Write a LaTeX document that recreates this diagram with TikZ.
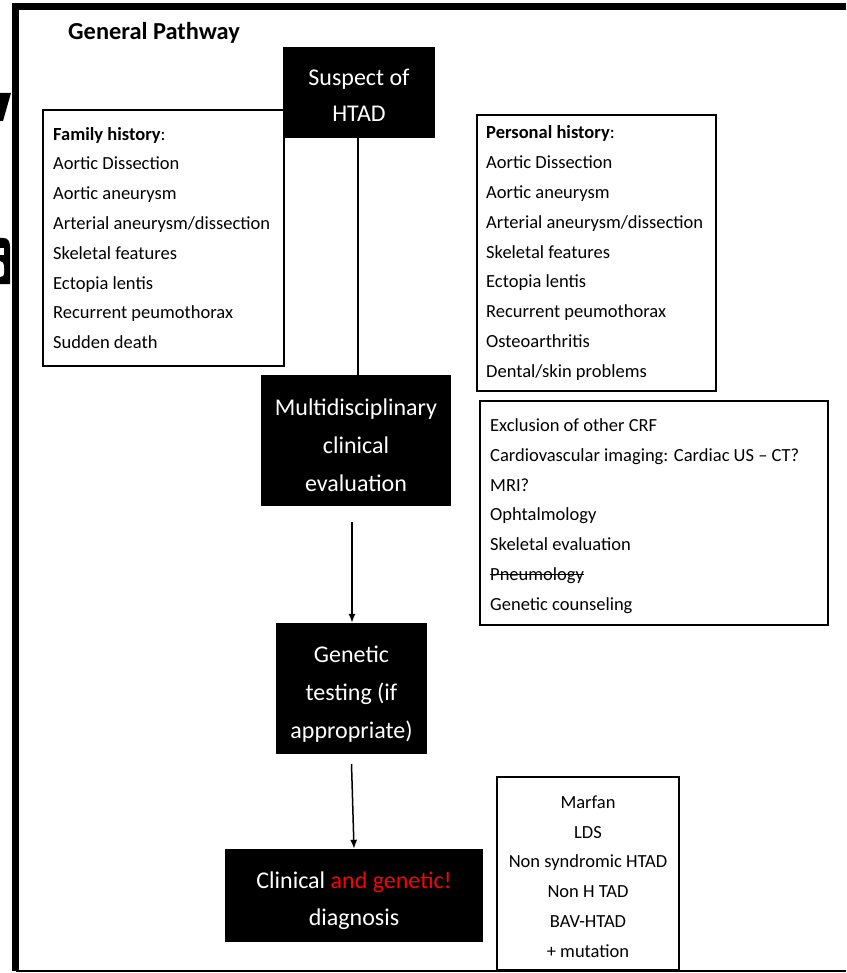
\documentclass[tikz,border=0pt]{standalone}
\usepackage{fontspec}
\setmainfont{Carlito}
\newsavebox\strkbox
\newcommand\mystrike[1]{\leavevmode\sbox\strkbox{#1}\rlap{\rule[0.27em]{\wd\strkbox}{0.06em}}\usebox\strkbox}
\usetikzlibrary{arrows.meta}
\begin{document}
\begin{tikzpicture}[x=1pt,y=-1pt,
  blk/.style={fill=black, inner sep=0},
  btxt/.style={text=white, inner sep=0, align=center, font=\fontsize{24}{38}\selectfont},
  lst/.style={draw=black, line width=1.8, fill=white, inner sep=0},
  ltxt/.style={inner sep=0, font=\fontsize{18.5}{29.8}\selectfont},
  conn/.style={line width=1.3},
  arr/.style={line width=1.5, -{Latex[length=9,width=7]}}]
\useasboundingbox (0,0) rectangle (846,973);
% fragments of the neighbouring slide (shapes)
\fill (0,93) -- (11,93) -- (3,121) -- (0,121) -- cycle;
\begin{scope}[yshift=10]
\fill (0,248) -- (3,248) .. controls (8,248) and (10,251) .. (10,257) -- (10,294) -- (0,294) -- cycle;
\fill[white] (0,258) rectangle (3.5,265);
\fill[white] (0,271) .. controls (2.5,271) and (4,273) .. (4,278) -- (4,282) .. controls (4,286) and (2.5,287) .. (0,287) -- cycle;
\end{scope}
% frame
\draw[line width=7] (12,7) -- (846,7);
\draw[line width=7] (15.5,3.5) -- (15.5,971);
\draw[line width=2] (15.5,971) -- (846,971);
% title
\node[anchor=west, inner sep=0, font=\fontsize{24.4}{29}\selectfont\bfseries] (title) at (68,33) {General Pathway};
% side boxes
\node[lst, minimum width=241, minimum height=256] (fam) at (163.5,238) {};
\node[ltxt, anchor=west, align=left] (famt) at (53,238)
 {\textbf{Family history}:\\Aortic Dissection\\Aortic aneurysm\\Arterial aneurysm/dissection\\Skeletal features\\Ectopia lentis\\Recurrent peumothorax\\Sudden death};
\node[lst, minimum width=239, minimum height=276] (pers) at (596.5,253) {};
\node[ltxt, anchor=west, align=left] (perst) at (486,253)
 {\textbf{Personal history}:\\Aortic Dissection\\Aortic aneurysm\\Arterial aneurysm/dissection\\Skeletal features\\Ectopia lentis\\Recurrent peumothorax\\Osteoarthritis\\Dental/skin problems};
\node[lst, minimum width=348, minimum height=224] (excl) at (654,513) {};
\node[ltxt, anchor=west, align=left] (exclt) at (490,516)
 {Exclusion of other CRF\\Cardiovascular imaging: Cardiac US -- CT?\\MRI?\\Ophtalmology\\Skeletal evaluation\\\mystrike{Pneumology}\\Genetic counseling};
\node[lst, minimum width=182, minimum height=193] (dx) at (588,873.5) {};
\node[ltxt, align=center] (dxt) at (588,876.5)
 {Marfan\\LDS\\Non syndromic HTAD\\Non H TAD\\BAV-HTAD\\+ mutation};
% main pathway
\node[blk, minimum width=152, minimum height=91] (susp) at (359,92.5) {};
\node[btxt, font=\fontsize{24}{36}\selectfont] (suspt) at (359,95.5) {Suspect of\\HTAD};
\node[blk, minimum width=190, minimum height=131] (multi) at (356,440.5) {};
\node[btxt] (multit) at (356,445.5) {Multidisciplinary\\clinical\\evaluation};
\node[blk, minimum width=151, minimum height=131] (gen) at (351.5,688.5) {};
\node[btxt] (gent) at (351.5,694.5) {Genetic\\testing (if\\appropriate)};
\node[blk, minimum width=258, minimum height=93] (clin) at (354,895.5) {};
\node[btxt, font=\fontsize{24}{37}\selectfont] (clint) at (354,900.5) {Clinical \textcolor{red}{and genetic!}\\diagnosis};
% connectors
\coordinate (s1) at (358,138);
\draw[conn] (s1) -- (s1 |- multi.north);
\coordinate (a1) at (352,522);
\draw[arr] (a1) -- (gen.north -| a1);
\coordinate (a2) at (351.5,764);
\draw[arr] (a2) -- (clin.north);
\end{tikzpicture}
\end{document}
